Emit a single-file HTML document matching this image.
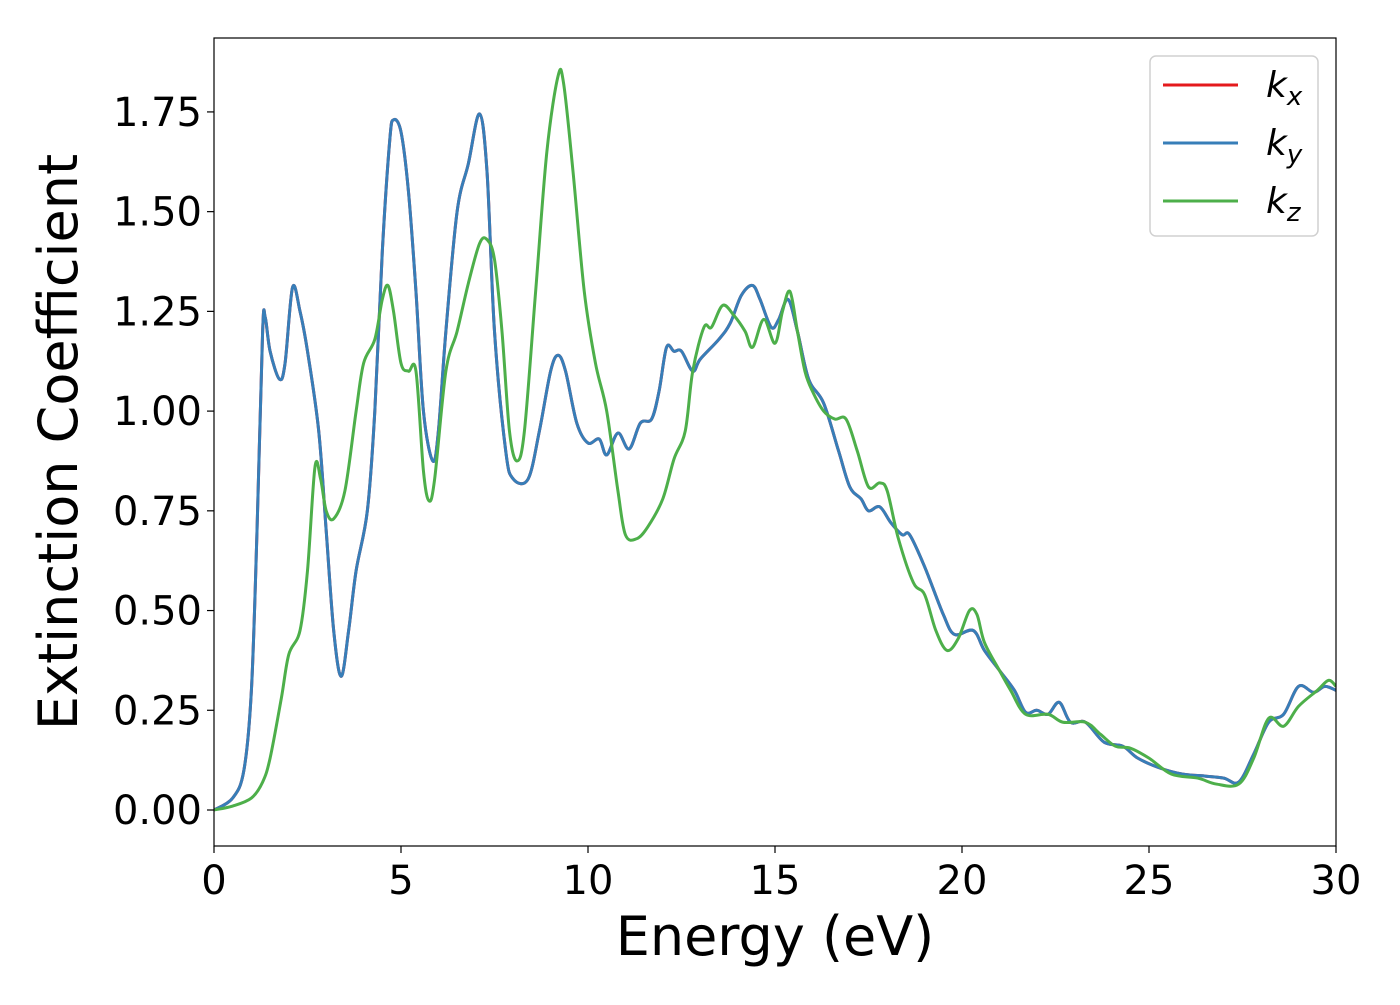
<!DOCTYPE html>
<html><head><meta charset="utf-8"><style>
html,body{margin:0;padding:0;background:#fff;}
svg text{font-family:"DejaVu Sans","Liberation Sans",sans-serif;fill:#000;}
</style></head><body>
<svg id="chart" width="1400" height="1000" xmlns="http://www.w3.org/2000/svg">
<g id="plot"></g>
</svg>
<script>
const energyBlue=[0,0.5,0.8,1.0,1.15,1.3,1.37,1.5,1.75,1.9,2.1,2.3,2.5,2.8,3.0,3.2,3.4,3.6,3.8,4.1,4.3,4.5,4.7,4.8,5.0,5.2,5.4,5.6,5.85,6.0,6.2,6.5,6.8,7.1,7.3,7.5,7.8,8.0,8.4,8.7,9.0,9.2,9.4,9.7,10.0,10.3,10.5,10.8,11.1,11.4,11.7,11.9,12.1,12.3,12.5,12.8,13.0,13.5,13.8,14.1,14.4,14.6,14.9,15.1,15.35,15.6,15.9,16.3,16.7,17.0,17.3,17.5,17.8,18.1,18.4,18.6,19.0,19.5,19.8,20.3,20.6,21.0,21.4,21.7,22.0,22.3,22.6,22.9,23.3,23.8,24.3,24.7,25.3,25.9,26.5,27.0,27.4,27.8,28.2,28.6,29.0,29.4,29.7,30.0];
const kxyValues=[0,0.03,0.1,0.3,0.7,1.2,1.235,1.15,1.08,1.12,1.31,1.25,1.15,0.95,0.7,0.45,0.335,0.45,0.6,0.75,1.0,1.4,1.68,1.73,1.7,1.55,1.3,1.0,0.875,0.95,1.2,1.5,1.62,1.745,1.6,1.2,0.9,0.83,0.83,0.95,1.1,1.14,1.1,0.97,0.92,0.93,0.89,0.945,0.905,0.97,0.98,1.05,1.16,1.15,1.15,1.1,1.13,1.18,1.22,1.29,1.315,1.28,1.21,1.23,1.28,1.2,1.08,1.02,0.9,0.81,0.78,0.75,0.76,0.72,0.69,0.69,0.61,0.49,0.44,0.45,0.4,0.35,0.3,0.245,0.25,0.24,0.27,0.22,0.22,0.17,0.16,0.13,0.105,0.09,0.085,0.08,0.07,0.14,0.22,0.24,0.31,0.295,0.31,0.3];
const energyGreen=[0,0.5,1.0,1.3,1.5,1.8,2.0,2.3,2.5,2.7,2.85,3.0,3.2,3.5,3.8,4.0,4.3,4.5,4.65,4.8,5.0,5.2,5.4,5.6,5.75,5.9,6.2,6.5,6.8,7.1,7.3,7.5,7.7,7.9,8.1,8.3,8.6,8.9,9.2,9.35,9.6,9.9,10.2,10.5,10.8,11.0,11.3,11.6,12.0,12.3,12.6,12.8,13.1,13.3,13.6,13.9,14.2,14.4,14.7,15.0,15.2,15.4,15.6,15.8,16.0,16.3,16.6,16.9,17.2,17.5,17.8,18.0,18.3,18.7,19.0,19.3,19.6,19.9,20.2,20.4,20.6,21.0,21.3,21.7,22.3,22.7,23.3,23.7,24.1,24.5,25.0,25.6,26.3,26.8,27.4,27.8,28.2,28.6,29.0,29.5,29.8,30];
const kzValues=[0,0.01,0.03,0.07,0.13,0.28,0.39,0.45,0.6,0.86,0.83,0.75,0.73,0.8,1.0,1.12,1.18,1.28,1.315,1.25,1.12,1.1,1.1,0.85,0.775,0.83,1.1,1.2,1.32,1.42,1.43,1.38,1.2,0.95,0.875,0.95,1.3,1.65,1.84,1.82,1.6,1.3,1.12,1.0,0.8,0.69,0.68,0.71,0.78,0.88,0.95,1.1,1.21,1.21,1.265,1.24,1.2,1.16,1.23,1.17,1.25,1.3,1.2,1.1,1.05,1.0,0.98,0.98,0.9,0.81,0.82,0.8,0.68,0.57,0.54,0.45,0.4,0.43,0.5,0.49,0.42,0.35,0.3,0.24,0.24,0.22,0.22,0.19,0.16,0.155,0.13,0.09,0.08,0.065,0.065,0.13,0.23,0.21,0.26,0.3,0.325,0.31];
const xTicks=[0,5,10,15,20,25,30];
const yTicks=[0,0.25,0.5,0.75,1.0,1.25,1.5,1.75];
const yTickLabels=["0.00","0.25","0.50","0.75","1.00","1.25","1.50","1.75"];
const legendLabels=["x","y","z"];

const L=214,R=1336,T=38,B=846;
const xs=e=>L+(e-0)/30*(R-L);
const ys=v=>810-v*398.9;
const NS="http://www.w3.org/2000/svg";
const svg=document.getElementById('chart');
function mk(tag,attrs,parent){const el=document.createElementNS(NS,tag);for(const k in attrs)el.setAttribute(k,attrs[k]);(parent||svg).appendChild(el);return el;}
function pathFor(X,Y){
  const p=X.map((e,i)=>[xs(e),ys(Y[i])]);
  let d=`M${p[0][0]},${p[0][1]}`;
  for(let i=0;i<p.length-1;i++){
    const p0=p[Math.max(0,i-1)],p1=p[i],p2=p[i+1],p3=p[Math.min(p.length-1,i+2)];
    const c1=[p1[0]+(p2[0]-p0[0])/6,p1[1]+(p2[1]-p0[1])/6];
    const c2=[p2[0]-(p3[0]-p1[0])/6,p2[1]-(p3[1]-p1[1])/6];
    d+=` C${c1[0]},${c1[1]} ${c2[0]},${c2[1]} ${p2[0]},${p2[1]}`;
  }
  return d;
}
const plot=document.getElementById('plot');
const clip=mk('clipPath',{id:'cp'});mk('rect',{x:L,y:T,width:R-L,height:B-T},clip);
let el;
el=mk('path',{d:pathFor(energyBlue,kxyValues),fill:'none',stroke:'#e41a1c','stroke-width':3,'clip-path':'url(#cp)'},plot);


el=mk('path',{d:pathFor(energyBlue,kxyValues),fill:'none',stroke:'#377eb8','stroke-width':3,'clip-path':'url(#cp)'},plot);


el=mk('path',{d:pathFor(energyGreen,kzValues),fill:'none',stroke:'#4daf4a','stroke-width':3,'clip-path':'url(#cp)'},plot);


el=mk('rect',{x:L,y:T,width:R-L,height:B-T,fill:'none',stroke:'#000','stroke-width':1.2});


xTicks.forEach(t=>{
  mk('line',{x1:xs(t),x2:xs(t),y1:B,y2:B+7,stroke:'#000','stroke-width':1.2});
  el=mk('text',{x:xs(t),y:B+48,'font-size':40,'text-anchor':'middle'});el.textContent=t;
  
  
});
yTicks.forEach((t,i)=>{
  mk('line',{x1:L-7,x2:L,y1:ys(t),y2:ys(t),stroke:'#000','stroke-width':1.2});
  el=mk('text',{x:L-12,y:ys(t)+14,'font-size':40,'text-anchor':'end'});el.textContent=yTickLabels[i];
  
  
});
el=mk('text',{x:775,y:955,'font-size':54,'text-anchor':'middle'});el.textContent='Energy (eV)';


el=mk('text',{x:0,y:0,'font-size':54,'text-anchor':'middle',transform:'translate(77,442) rotate(-90)'});el.textContent='Extinction Coefficient';


el=mk('rect',{x:1150,y:56,width:168,height:180,rx:6,fill:'#fff',stroke:'#d0d0d0','stroke-width':1.5});


const cols=['#e41a1c','#377eb8','#4daf4a'];
legendLabels.forEach((s,i)=>{
  const y=85+i*58;
  el=mk('line',{x1:1163,x2:1238,y1:y,y2:y,stroke:cols[i],'stroke-width':3});
  
  
  el=mk('text',{x:1266,y:y+12,'font-size':36,'font-style':'italic'});
  
  
  el.textContent='k';
  const sub=mk('tspan',{'font-size':26,dy:8},el);sub.textContent=s;
});
</script>
</body></html>
